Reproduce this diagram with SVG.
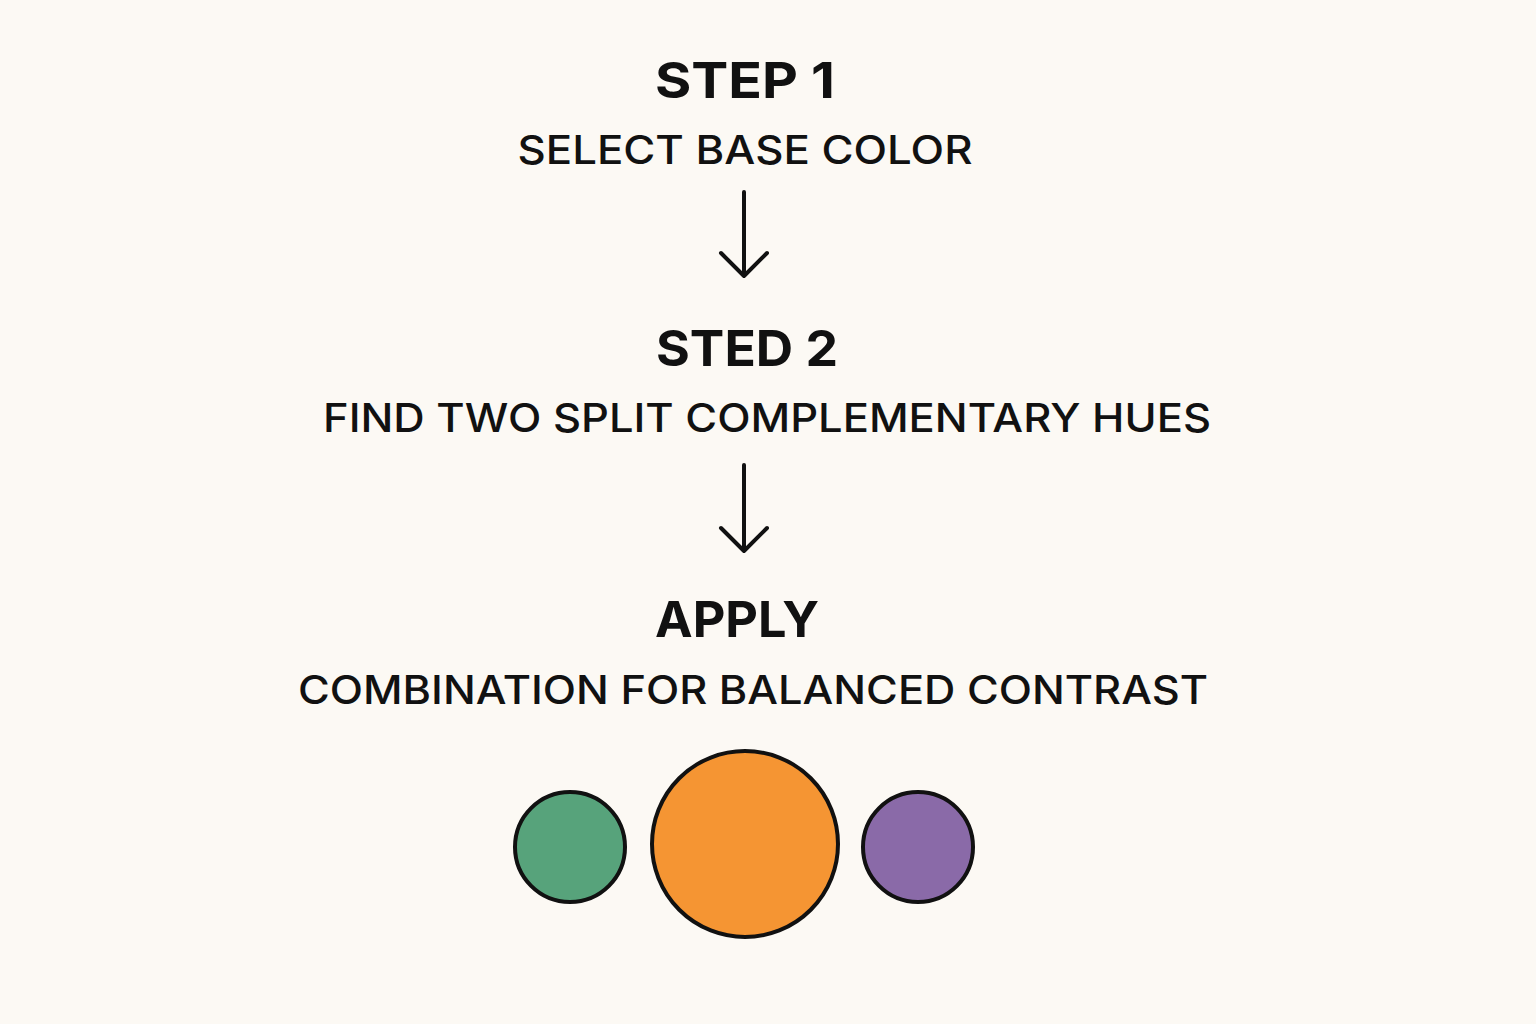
<svg xmlns="http://www.w3.org/2000/svg" width="1536" height="1024" viewBox="0 0 1536 1024">
<style>
.t{font-family:Inter,"Noto Sans","Liberation Sans",sans-serif;fill:#111;text-anchor:middle}
.h{font-weight:700;font-size:50px}
.s{font-weight:500;font-size:40px}
.a{fill:none;stroke:#111;stroke-width:4;stroke-linecap:round;stroke-linejoin:round}
.c{stroke:#111;stroke-width:4}
</style>
<rect width="1536" height="1024" fill="#fcf9f4"/>
<g id="step1"><text class="t h" x="745" y="98" textLength="180" lengthAdjust="spacingAndGlyphs">STEP 1</text>
<text class="t s" x="745" y="164" textLength="455" lengthAdjust="spacingAndGlyphs">SELECT BASE COLOR</text></g>
<g id="step2"><text class="t h" x="747" y="366" textLength="182" lengthAdjust="spacingAndGlyphs">STED 2</text>
<text class="t s" x="767" y="432" textLength="888" lengthAdjust="spacingAndGlyphs">FIND TWO SPLIT COMPLEMENTARY HUES</text></g>
<g id="apply"><text class="t h" x="737" y="637" textLength="164" lengthAdjust="spacingAndGlyphs">APPLY</text>
<text class="t s" x="753" y="704" textLength="910" lengthAdjust="spacingAndGlyphs">COMBINATION FOR BALANCED CONTRAST</text></g>
<g id="connectors">
<path class="a" d="M744 192V276M721 253L744 276L767 253"/>
<path class="a" d="M744 465V551M721 528L744 551L767 528"/>
</g>
<g id="swatches">
<circle class="c" cx="570" cy="847" r="55" fill="#57a37b"/>
<circle class="c" cx="745" cy="844" r="93" fill="#f59533"/>
<circle class="c" cx="918" cy="847" r="55" fill="#8a6aa8"/>
</g>
</svg>
